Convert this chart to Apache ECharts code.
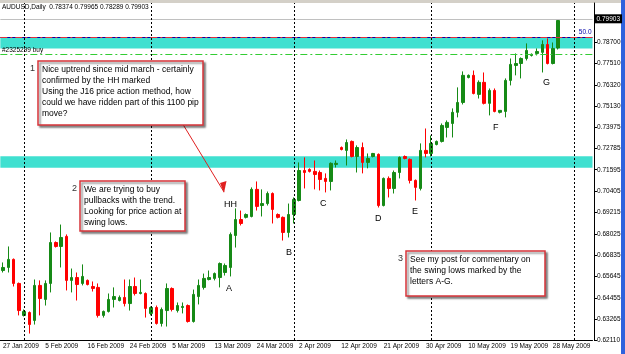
<!DOCTYPE html>
<html>
<head>
<meta charset="utf-8">
<script src="https://cdn.jsdelivr.net/npm/echarts@6/dist/echarts.min.js"></script>
<style>
  html, body { margin: 0; padding: 0; background: #fff; }
  #chart { width: 625px; height: 354px; }
</style>
</head>
<body>
<div id="chart"></div>
<script>
// AUDUSD daily bars, late Jan - end May 2009: [open, close, low, high]
var ohlc = [
  [0.6598, 0.6615, 0.6587, 0.6643], [0.6615, 0.6660, 0.6587, 0.6732], [0.6660, 0.6526, 0.6509, 0.6665],
  [0.6526, 0.6375, 0.6348, 0.6531], [0.6348, 0.6370, 0.6342, 0.6381], [0.6364, 0.6297, 0.6247, 0.6370],
  [0.6320, 0.6515, 0.6297, 0.6548], [0.6515, 0.6442, 0.6348, 0.6543], [0.6437, 0.6526, 0.6403, 0.6543],
  [0.6526, 0.6754, 0.6476, 0.6810], [0.6754, 0.6732, 0.6726, 0.6760], [0.6732, 0.6782, 0.6615, 0.6854],
  [0.6788, 0.6543, 0.6487, 0.6799], [0.6543, 0.6559, 0.6476, 0.6609], [0.6559, 0.6520, 0.6431, 0.6587],
  [0.6526, 0.6565, 0.6515, 0.6632], [0.6543, 0.6520, 0.6515, 0.6548], [0.6509, 0.6498, 0.6481, 0.6537],
  [0.6504, 0.6348, 0.6336, 0.6526], [0.6348, 0.6370, 0.6336, 0.6375], [0.6370, 0.6437, 0.6364, 0.6470],
  [0.6437, 0.6453, 0.6392, 0.6504], [0.6431, 0.6448, 0.6426, 0.6459], [0.6448, 0.6414, 0.6398, 0.6548],
  [0.6414, 0.6509, 0.6375, 0.6548], [0.6509, 0.6470, 0.6459, 0.6559], [0.6470, 0.6476, 0.6465, 0.6548],
  [0.6470, 0.6387, 0.6336, 0.6476], [0.6359, 0.6392, 0.6348, 0.6398], [0.6392, 0.6303, 0.6297, 0.6403],
  [0.6303, 0.6381, 0.6286, 0.6392], [0.6375, 0.6498, 0.6286, 0.6526], [0.6498, 0.6381, 0.6370, 0.6504],
  [0.6375, 0.6403, 0.6364, 0.6420], [0.6392, 0.6398, 0.6359, 0.6420], [0.6403, 0.6314, 0.6308, 0.6409],
  [0.6314, 0.6465, 0.6308, 0.6492], [0.6453, 0.6515, 0.6409, 0.6548], [0.6504, 0.6554, 0.6492, 0.6581],
  [0.6548, 0.6559, 0.6543, 0.6598], [0.6554, 0.6581, 0.6543, 0.6587], [0.6559, 0.6637, 0.6504, 0.6643],
  [0.6587, 0.6626, 0.6570, 0.6637], [0.6615, 0.6799, 0.6565, 0.6810], [0.6793, 0.6882, 0.6726, 0.6944],
  [0.6882, 0.6860, 0.6849, 0.6932], [0.6894, 0.6910, 0.6888, 0.6916], [0.6899, 0.7050, 0.6894, 0.7061],
  [0.7050, 0.6955, 0.6932, 0.7094], [0.6960, 0.6971, 0.6899, 0.7050], [0.6971, 0.7027, 0.6960, 0.7038],
  [0.7027, 0.6938, 0.6860, 0.7033], [0.6910, 0.6894, 0.6888, 0.6916], [0.6894, 0.6810, 0.6765, 0.6899],
  [0.6810, 0.6910, 0.6782, 0.6971], [0.6910, 0.6994, 0.6860, 0.7005], [0.6988, 0.7155, 0.6983, 0.7200],
  [0.7155, 0.7144, 0.7055, 0.7228], [0.7161, 0.7150, 0.7144, 0.7167], [0.7150, 0.7133, 0.7050, 0.7211],
  [0.7144, 0.7105, 0.7044, 0.7155], [0.7111, 0.7094, 0.7033, 0.7139], [0.7094, 0.7195, 0.7044, 0.7200],
  [0.7189, 0.7195, 0.7172, 0.7211], [0.7283, 0.7272, 0.7267, 0.7289], [0.7267, 0.7311, 0.7183, 0.7328],
  [0.7317, 0.7233, 0.7228, 0.7322], [0.7233, 0.7283, 0.7144, 0.7295], [0.7283, 0.7200, 0.7139, 0.7311],
  [0.7200, 0.7222, 0.7167, 0.7250], [0.7233, 0.7250, 0.7228, 0.7253], [0.7245, 0.6960, 0.6949, 0.7250],
  [0.6960, 0.7111, 0.6955, 0.7116], [0.7111, 0.7055, 0.7005, 0.7122], [0.7055, 0.7144, 0.7027, 0.7155],
  [0.7144, 0.7228, 0.7111, 0.7233], [0.7233, 0.7222, 0.7217, 0.7239], [0.7217, 0.7100, 0.7083, 0.7222],
  [0.7100, 0.7061, 0.6988, 0.7105], [0.7055, 0.7267, 0.7044, 0.7306], [0.7267, 0.7250, 0.7228, 0.7389],
  [0.7250, 0.7306, 0.7233, 0.7350], [0.7300, 0.7317, 0.7295, 0.7322], [0.7317, 0.7406, 0.7311, 0.7417],
  [0.7395, 0.7423, 0.7339, 0.7434], [0.7417, 0.7479, 0.7339, 0.7501], [0.7479, 0.7534, 0.7451, 0.7618],
  [0.7534, 0.7685, 0.7523, 0.7707], [0.7673, 0.7685, 0.7668, 0.7690], [0.7685, 0.7584, 0.7579, 0.7712],
  [0.7579, 0.7646, 0.7556, 0.7657], [0.7646, 0.7529, 0.7523, 0.7701], [0.7529, 0.7601, 0.7462, 0.7612],
  [0.7601, 0.7484, 0.7479, 0.7612], [0.7479, 0.7490, 0.7473, 0.7490], [0.7484, 0.7657, 0.7451, 0.7668],
  [0.7657, 0.7746, 0.7629, 0.7779], [0.7740, 0.7751, 0.7685, 0.7807], [0.7751, 0.7779, 0.7668, 0.7785],
  [0.7779, 0.7824, 0.7768, 0.7863], [0.7796, 0.7802, 0.7790, 0.7807], [0.7807, 0.7818, 0.7796, 0.7835],
  [0.7813, 0.7857, 0.7701, 0.7880], [0.7857, 0.7751, 0.7746, 0.7891], [0.7751, 0.7835, 0.7746, 0.7868],
  [0.78374, 0.79903, 0.78289, 0.79965]
]
var slots = 112 // bars plus empty right margin
var dateTicks = ['27 Jan 2009', '5 Feb 2009', '16 Feb 2009', '24 Feb 2009', '5 Mar 2009', '13 Mar 2009',
  '24 Mar 2009', '2 Apr 2009', '12 Apr 2009', '21 Apr 2009', '30 Apr 2009', '10 May 2009', '19 May 2009', '28 May 2009']
var tickStep = 8
var monthStarts = ['4', '28', '55', '81', '108'] // period separators (1 Feb .. 1 Jun)
var priceTicks = [0.6211, 0.63265, 0.64455, 0.65645, 0.66835, 0.68025, 0.69215, 0.70405, 0.71595,
  0.72785, 0.73975, 0.7513, 0.7632, 0.7751, 0.787]
var bid = 0.79903
var fiboLevel = 0.7930
var orderPrice = 0.7870
var stopPrice = 0.7802
var zones = [[0.7835, 0.7895], [0.7170, 0.7235]]
var header = 'AUDUSD,Daily  0.78374 0.79965 0.78289 0.79903'
var note1 = ['Nice uptrend since mid march - certainly', 'confirmed by the HH marked',
  'Using the J16 price action method, how', 'could we have ridden part of this 1100 pip', 'move?']
var note2 = ['We are trying to buy', 'pullbacks with the trend.', 'Looking for price action at', 'swing lows.']
var note3 = ['See my post for commentary on', 'the swing lows marked by the', 'letters A-G.']

var cats = []
for (var i = 0; i < slots; i++) cats.push(String(i))

var chart = echarts.init(document.getElementById('chart'))
var small = 6.5
var font = 'Liberation Sans, Arial, sans-serif'

function box(x, y, w, h, num, lines) {
  return [
    { type: 'rect', z: 100, shape: { x: x, y: y, width: w, height: h },
      style: { fill: '#fff', stroke: '#d8343a', lineWidth: 1.5,
        shadowBlur: 2, shadowOffsetX: 2, shadowOffsetY: 2, shadowColor: 'rgba(0,0,0,0.45)' } },
    { type: 'text', z: 101, x: x + 4, y: y + 3,
      style: { text: lines.join('\n'), font: '8.5px ' + font, fill: '#000', lineHeight: 11 } },
    { type: 'text', z: 101, x: x - 8, y: y + 3,
      style: { text: num, font: '9px ' + font, fill: '#333' } }
  ]
}

var graphics = [
  { type: 'rect', shape: { x: 0, y: 0, width: 625, height: 3 }, style: { fill: '#d4d0c8' } },
  { type: 'rect', shape: { x: 621, y: 0, width: 4, height: 354 }, style: { fill: '#2f62dd' } },
  { type: 'line', z: 90, shape: { x1: 170, y1: 103, x2: 224, y2: 192 }, style: { stroke: '#e02020', lineWidth: 1 } },
  { type: 'polygon', z: 90, shape: { points: [[224, 193], [220, 183], [226.5, 181]] }, style: { fill: '#e02020' } },
  { type: 'text', x: 2, y: 4, style: { text: header, font: small + 'px ' + font, fill: '#000' } },
  { type: 'text', x: 2, y: 47, z: 50, style: { text: '#2325299 buy', font: small + 'px ' + font, fill: '#000' } }
]
graphics = graphics.concat(box(38, 61, 165, 64, '1', note1))
graphics = graphics.concat(box(80, 181, 105, 50, '2', note2))
graphics = graphics.concat(box(406, 251, 139, 45, '3', note3))
var letters = [['HH', 224, 200], ['A', 226, 284], ['B', 286, 248], ['C', 320, 199], ['D', 375, 214],
  ['E', 412, 207], ['F', 493, 123], ['G', 543, 78]]
letters.forEach(function(l) {
  graphics.push({ type: 'text', x: l[1], y: l[2], style: { text: l[0], font: '9px ' + font, fill: '#000' } })
})

chart.setOption({
  animation: false,
  backgroundColor: '#fff',
  grid: { left: -4.2, right: 32.5, top: 3, bottom: 14 },
  xAxis: {
    type: 'category',
    data: cats,
    boundaryGap: true,
    axisLine: { lineStyle: { color: '#000', width: 1 } },
    axisTick: { alignWithLabel: true, length: 3, lineStyle: { color: '#000' },
      interval: function(idx) { return idx % tickStep === 0 } },
    axisLabel: {
      interval: function(idx) { return idx % tickStep === 0 },
      formatter: function(v, idx) { return dateTicks[idx / tickStep] || '' },
      align: 'left', fontSize: small, fontFamily: font, color: '#000', margin: 3
    },
    splitLine: { show: false }
  },
  yAxis: {
    type: 'value',
    position: 'right',
    offset: 1.5,
    min: 0.6211,
    max: 0.8088,
    splitLine: { show: false },
    axisLine: { show: true, lineStyle: { color: '#000' } },
    axisTick: { show: true, length: 3, customValues: priceTicks, lineStyle: { color: '#000' } },
    axisLabel: { customValues: priceTicks, formatter: function(v) { return v.toFixed(5) },
      fontSize: small, fontFamily: font, color: '#000', margin: 3 }
  },
  series: [
    {
      type: 'line',
      data: [],
      z: 1,
      markArea: {
        silent: true,
        itemStyle: { color: '#40e0d0', opacity: 1 },
        data: zones.map(function(zn) { return [{ yAxis: zn[0] }, { yAxis: zn[1] }] })
      },
      markLine: {
        silent: true,
        symbol: 'none',
        animation: false,
        data: [
          { yAxis: bid, lineStyle: { color: '#c0c0c0', type: 'solid', width: 1 },
            label: { show: true, position: 'end', formatter: bid.toFixed(5), color: '#fff',
              backgroundColor: '#000', padding: [1, 2], fontSize: small, fontFamily: font, distance: 2 } },
          { yAxis: fiboLevel, lineStyle: { color: '#0000a8', type: 'solid', width: 1 },
            label: { show: true, position: 'insideEndTop', formatter: '50.0', color: '#0000a8',
              fontSize: small, fontFamily: font, distance: 1 } },
          { yAxis: orderPrice, lineStyle: { color: '#e0303a', type: [7, 3, 2, 3], width: 1 }, label: { show: false } },
          { yAxis: stopPrice, lineStyle: { color: '#33cc33', type: [7, 3, 2, 3], width: 1 }, label: { show: false } }
        ].concat(monthStarts.map(function(m) {
          return { xAxis: m, lineStyle: { color: '#000', type: [2, 2], width: 1 }, label: { show: false } }
        }))
      }
    },
    {
      type: 'candlestick',
      z: 3,
      barWidth: 3,
      data: ohlc,
      itemStyle: {
        color: '#168a16', color0: '#ff0000',
        borderColor: '#168a16', borderColor0: '#ff0000', borderWidth: 1
      }
    }
  ],
  graphic: graphics
})
</script>
</body>
</html>
